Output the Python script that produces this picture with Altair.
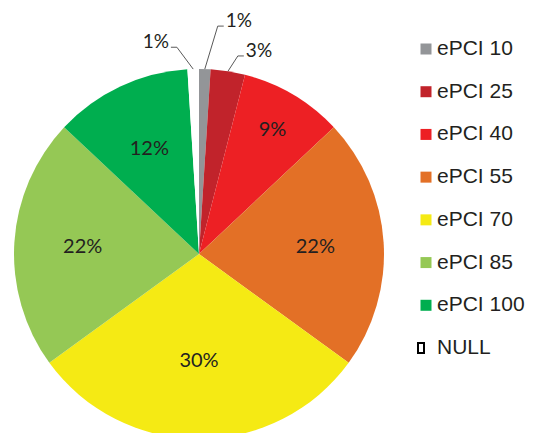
import altair as alt
import pandas as pd

# ---- data ----
categories = ["ePCI 10", "ePCI 25", "ePCI 40", "ePCI 55", "ePCI 70", "ePCI 85", "ePCI 100", "NULL"]
shares = [1, 3, 9, 22, 30, 22, 12, 1]
labels = ["1%", "3%", "9%", "22%", "30%", "22%", "12%", "1%"]
colors = ["#939598", "#C1232B", "#ED2024", "#E37026", "#F5EA14", "#95C855", "#00AE4F", "#FFFFFF"]

df = pd.DataFrame({"cat": categories, "val": shares, "label": labels,
                   "idx": list(range(len(categories)))})

# ---- geometry (chart pixel space) ----
CX, CY, R = 191, 246, 185
W, H = 523, 425
TXT = "#231F20"
LINE = "#595959"

xs = alt.Scale(domain=[-1, 1], range=[CX - R, CX + R], nice=False, zero=False)
ys = alt.Scale(domain=[-1, 1], range=[CY + R, CY - R], nice=False, zero=False)
cscale = alt.Scale(domain=categories, range=colors)

base = (
    alt.Chart(df)
    .transform_window(cum="sum(val)", sort=[alt.SortField("idx")], frame=[None, 0])
    .transform_joinaggregate(total="sum(val)")
    .transform_calculate(
        mid="2*PI*(datum.cum - datum.val/2)/datum.total",
        share="datum.val/datum.total",
    )
)

arcs = alt.Chart(df).mark_arc(outerRadius=R).encode(
    theta=alt.Theta("val:Q", stack=True),
    order=alt.Order("idx:Q", sort="ascending"),
    color=alt.Color("cat:N", scale=cscale, legend=None),
    x=alt.value(CX),
    y=alt.value(CY),
)

inside = (
    base.transform_filter("datum.share >= 0.05")
    .transform_calculate(lr="datum.share >= 0.25 ? 0.58 : (datum.share < 0.1 ? 0.78 : 0.63)")
    .transform_calculate(lx="datum.lr*sin(datum.mid)", ly="datum.lr*cos(datum.mid)")
    .mark_text(font="Lato", fontSize=20, color=TXT)
    .encode(
        x=alt.X("lx:Q", scale=xs, axis=None),
        y=alt.Y("ly:Q", scale=ys, axis=None),
        text="label:N",
    )
)

# outside label placement: (angle shift of elbow in degrees, elbow radius, side)
OUT = {"ePCI 10": (2.9, 1.236, 1), "ePCI 25": (2.1, 1.091, 1), "NULL": (-4.3, 1.124, -1)}
TICK = 6.0 / R
outs = []
for cat, (dth, re, side) in OUT.items():
    b = base.transform_filter(alt.datum.cat == cat).transform_calculate(
        ax="sin(datum.mid)", ay="cos(datum.mid)",
        ex=f"{re}*sin(datum.mid + {dth}*PI/180)",
        ey=f"{re}*cos(datum.mid + {dth}*PI/180)",
    ).transform_calculate(tx=f"datum.ex + {side * TICK}")
    r1 = b.mark_rule(color=LINE, strokeWidth=1).encode(
        x=alt.X("ax:Q", scale=xs, axis=None), y=alt.Y("ay:Q", scale=ys, axis=None),
        x2="ex:Q", y2="ey:Q")
    r2 = b.mark_rule(color=LINE, strokeWidth=1).encode(
        x=alt.X("ex:Q", scale=xs, axis=None), y=alt.Y("ey:Q", scale=ys, axis=None),
        x2="tx:Q", y2="ey:Q")
    t = b.mark_text(font="Lato", fontSize=19, color=TXT,
                    align="left" if side > 0 else "right",
                    baseline="alphabetic", dx=2 * side, dy=1).encode(
        x=alt.X("tx:Q", scale=xs, axis=None), y=alt.Y("ey:Q", scale=ys, axis=None),
        text="label:N")
    outs += [r1, r2, t]

# ---- legend ----
lys = alt.Scale(type="point", domain=categories, range=[41, 340], padding=0)
leg_sq = alt.Chart(df).transform_filter(alt.datum.cat != "NULL").mark_square(
    size=121, opacity=1).encode(
    y=alt.Y("cat:N", scale=lys, axis=None),
    x=alt.value(418),
    color=alt.Color("cat:N", scale=cscale, legend=None),
)
leg_null = alt.Chart(df).transform_filter(alt.datum.cat == "NULL").mark_point(
    shape="M-0.5,-0.85H0.5V0.85H-0.5Z", size=144, filled=True, fill="#FFFFFF",
    stroke="#000000", strokeWidth=2, opacity=1).encode(
    y=alt.Y("cat:N", scale=lys, axis=None),
    x=alt.value(413),
)
leg_txt = alt.Chart(df).mark_text(font="Liberation Sans", fontSize=21, color=TXT,
                                  align="left", baseline="middle").encode(
    y=alt.Y("cat:N", scale=lys, axis=None),
    x=alt.value(429),
    text="cat:N",
)

chart = alt.layer(arcs, inside, *outs, leg_sq, leg_null, leg_txt).resolve_scale(
    y="independent", x="independent"
).properties(
    width=W, height=H, autosize=alt.AutoSizeParams(type="none"), padding=0,
    background="#FFFFFF",
).configure_view(stroke=None)

chart.save("out.html", embed_options={"renderer": "svg", "actions": False})
